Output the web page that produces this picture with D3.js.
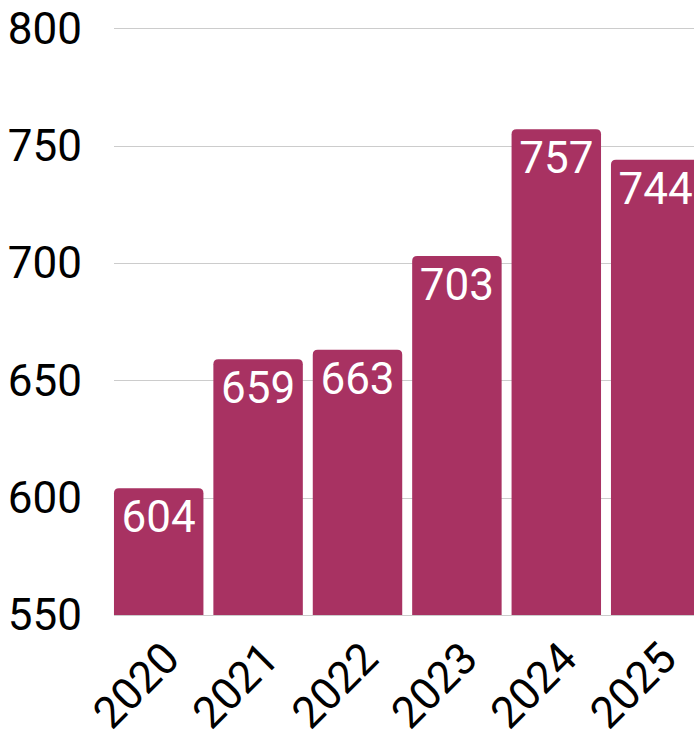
<!DOCTYPE html>
<html>
<head>
<meta charset="utf-8">
<script src="https://cdn.jsdelivr.net/npm/d3@7"></script>
<style>
  html, body { margin: 0; padding: 0; background: #fff; }
  svg { display: block; font-family: Roboto, "Noto Sans", sans-serif; }
</style>
</head>
<body>
<svg id="chart" width="694" height="733"></svg>
<script>
const years = ["2020", "2021", "2022", "2023", "2024", "2025"];
const values = [604, 659, 663, 703, 757, 744];
const yTicks = [550, 600, 650, 700, 750, 800];

const W = 694, H = 733;
const svg = d3.select("#chart");

const x = d3.scaleBand().domain(years).range([109, 705.4]).paddingInner(0.1).paddingOuter(0.05);
const y = d3.scaleLinear().domain([550, 800]).range([615, 28.3]);

// gridlines
svg.append("g").selectAll("line").data(yTicks).join("line")
  .attr("x1", 114).attr("x2", W)
  .attr("y1", d => Math.round(y(d)) + 0.5).attr("y2", d => Math.round(y(d)) + 0.5)
  .attr("stroke", "#cccccc").attr("stroke-width", 1);

// y tick labels
svg.append("g").selectAll("text").data(yTicks).join("text")
  .attr("x", 82).attr("y", d => y(d)).attr("dy", "0.35em")
  .attr("text-anchor", "end").attr("font-size", 44).attr("fill", "#000")
  .text(d => d);

// bars with rounded top corners
const r = 5;
function barPath(d, i) {
  const x0 = x(years[i]), w = x.bandwidth(), y0 = y(d), y1 = y(550);
  return `M${x0},${y1}V${y0 + r}Q${x0},${y0} ${x0 + r},${y0}H${x0 + w - r}Q${x0 + w},${y0} ${x0 + w},${y0 + r}V${y1}Z`;
}
svg.append("g").selectAll("path").data(values).join("path")
  .attr("d", barPath).attr("fill", "#a83262");

// value labels
svg.append("g").selectAll("text").data(values).join("text")
  .attr("x", (d, i) => x(years[i]) + x.bandwidth() / 2)
  .attr("y", d => y(d) + 44)
  .attr("text-anchor", "middle").attr("font-size", 44).attr("fill", "#fff")
  .text(d => d);

// x labels rotated
svg.append("g").selectAll("text").data(years).join("text")
  .attr("text-anchor", "end").attr("font-size", 44).attr("fill", "#000")
  .attr("transform", d => `translate(${x(d) + x.bandwidth() / 2 + 23},${661}) rotate(-45)`)
  .text(d => d);
</script>
</body>
</html>
